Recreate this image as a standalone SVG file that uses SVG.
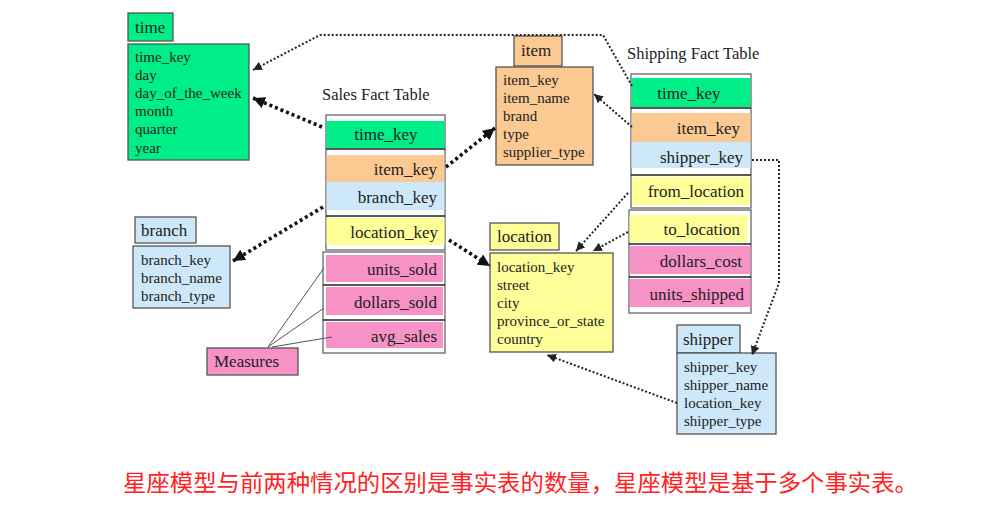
<svg xmlns="http://www.w3.org/2000/svg" width="1004" height="505" viewBox="0 0 1004 505">
<style>
text{font-family:"Liberation Serif","Times New Roman",serif;fill:#222}
.b{font-size:15px}
.f{font-size:17px}
.t{font-size:17px}
.cap{font-size:16.5px}
.r{text-anchor:end}
.m{text-anchor:middle}
.box{stroke:#555;stroke-width:1.3}
.frame{fill:#fff;stroke:#666;stroke-width:1.3}
.sep{stroke:#222;stroke-width:1.5}
.g{fill:#00EE88}
.o{fill:#FBC992}
.bl{fill:#CDE8F8}
.y{fill:#FFFF99}
.p{fill:#F792C6}
.thick{fill:none;stroke:#111;stroke-width:3.6;stroke-dasharray:3 3;marker-end:url(#ah)}
.thin{fill:none;stroke:#222;stroke-width:2;stroke-dasharray:2 2;marker-end:url(#as)}
.ml{fill:none;stroke:#555;stroke-width:1}
.cjk{font-family:"Liberation Serif","Noto Sans CJK SC",sans-serif;font-size:23px;fill:#FF2222}
</style>
<defs>
<marker id="ah" markerUnits="userSpaceOnUse" markerWidth="14" markerHeight="12" refX="12" refY="6" orient="auto">
<path d="M0,0 L12,6 L0,12 Z" fill="#111"/>
</marker>
<marker id="as" markerUnits="userSpaceOnUse" markerWidth="10" markerHeight="9" refX="9" refY="4.5" orient="auto">
<path d="M0,0 L9,4.5 L0,9 Z" fill="#222"/>
</marker>
</defs>
<rect width="1004" height="505" fill="#fff"/>

<g id="time">
<rect class="box g" x="128" y="13" width="45" height="28"/>
<text class="t" x="135" y="33">time</text>
<rect class="box g" x="128" y="44" width="121" height="116"/>
<text class="b" x="135" y="62">time_key</text>
<text class="b" x="135" y="80">day</text>
<text class="b" x="135" y="98">day_of_the_week</text>
<text class="b" x="135" y="116">month</text>
<text class="b" x="135" y="134">quarter</text>
<text class="b" x="135" y="153">year</text>
</g>

<g id="item">
<rect class="box o" x="514" y="36" width="48" height="30"/>
<text class="t" x="521" y="56">item</text>
<rect class="box o" x="496" y="67" width="97" height="98"/>
<text class="b" x="503" y="85">item_key</text>
<text class="b" x="503" y="103">item_name</text>
<text class="b" x="503" y="121">brand</text>
<text class="b" x="503" y="139">type</text>
<text class="b" x="503" y="157">supplier_type</text>
</g>

<g id="branch">
<rect class="box bl" x="135" y="217" width="61" height="26"/>
<text class="t" x="141" y="236">branch</text>
<rect class="box bl" x="133" y="246" width="97" height="62"/>
<text class="b" x="141" y="265">branch_key</text>
<text class="b" x="141" y="283">branch_name</text>
<text class="b" x="141" y="301">branch_type</text>
</g>

<g id="location">
<rect class="box y" x="490" y="223" width="69" height="27"/>
<text class="t" x="497" y="242">location</text>
<rect class="box y" x="490" y="253" width="123" height="99"/>
<text class="b" x="497" y="272">location_key</text>
<text class="b" x="497" y="290">street</text>
<text class="b" x="497" y="308">city</text>
<text class="b" x="497" y="326">province_or_state</text>
<text class="b" x="497" y="344">country</text>
</g>

<g id="shipper">
<rect class="box bl" x="677" y="325" width="63" height="28"/>
<text class="t" x="683" y="345">shipper</text>
<rect class="box bl" x="677" y="353" width="99" height="81"/>
<text class="b" x="684" y="372">shipper_key</text>
<text class="b" x="684" y="390">shipper_name</text>
<text class="b" x="684" y="408">location_key</text>
<text class="b" x="684" y="426">shipper_type</text>
</g>

<g id="measures">
<rect class="box p" x="207" y="348" width="91" height="27"/>
<text class="t" x="214" y="367">Measures</text>
</g>

<g id="sales-fact-table">
<text class="cap" x="322" y="100">Sales Fact Table</text>
<rect class="frame" x="326" y="115" width="119" height="135"/>
<rect class="g" x="326.5" y="121" width="118" height="27"/>
<rect class="o" x="326.5" y="155" width="118" height="27"/>
<rect class="bl" x="326.5" y="182" width="118" height="28"/>
<rect class="y" x="326.5" y="218" width="118" height="27"/>
<line class="sep" x1="326" y1="149" x2="445" y2="149"/>
<line class="sep" x1="326" y1="216" x2="445" y2="216"/>
<rect class="frame" x="323" y="252" width="122" height="101"/>
<rect class="p" x="326" y="255" width="117" height="27"/>
<rect class="p" x="326" y="287" width="117" height="28"/>
<rect class="p" x="326" y="322" width="117" height="26"/>
<line class="sep" x1="323" y1="285" x2="445" y2="285"/>
<line class="sep" x1="323" y1="320" x2="445" y2="320"/>
<text class="f m" x="386" y="140">time_key</text>
<text class="f r" x="437" y="175">item_key</text>
<text class="f r" x="437" y="203">branch_key</text>
<text class="f r" x="438" y="238">location_key</text>
<text class="f r" x="437" y="275">units_sold</text>
<text class="f r" x="437" y="308">dollars_sold</text>
<text class="f r" x="437" y="342">avg_sales</text>
</g>

<g id="shipping-fact-table">
<text class="cap" x="627" y="59">Shipping Fact Table</text>
<rect class="frame" x="631" y="74" width="120" height="134"/>
<rect class="g" x="631.5" y="78" width="119" height="29"/>
<rect class="o" x="631.5" y="113" width="119" height="29"/>
<rect class="bl" x="631.5" y="142" width="119" height="26"/>
<rect class="y" x="632" y="177" width="118" height="28"/>
<line class="sep" x1="631" y1="108" x2="751" y2="108"/>
<line class="sep" x1="631" y1="175" x2="751" y2="175"/>
<rect class="frame" x="629" y="210" width="122" height="103"/>
<rect class="y" x="629.5" y="215" width="118" height="27"/>
<rect class="p" x="629.5" y="246" width="121" height="28"/>
<rect class="p" x="629.5" y="279" width="121" height="28"/>
<line class="sep" x1="629" y1="244" x2="751" y2="244"/>
<line class="sep" x1="629" y1="277" x2="751" y2="277"/>
<text class="f m" x="689" y="99">time_key</text>
<text class="f r" x="740" y="134">item_key</text>
<text class="f r" x="743" y="163">shipper_key</text>
<text class="f r" x="744" y="197">from_location</text>
<text class="f r" x="740" y="235">to_location</text>
<text class="f r" x="742" y="267">dollars_cost</text>
<text class="f r" x="744" y="300">units_shipped</text>
</g>

<g id="connectors">
<polyline class="thin" points="632,86 603,35 320,35 253,70"/>
<line class="thick" x1="322" y1="127" x2="253" y2="98"/>
<line class="thick" x1="446" y1="167" x2="495" y2="128"/>
<line class="thick" x1="323" y1="207" x2="233" y2="261"/>
<line class="thick" x1="449" y1="240" x2="490" y2="266"/>
<line class="thin" x1="632" y1="127" x2="594" y2="94"/>
<polyline class="thin" points="752,160 779,160 779,283 752,355"/>
<line class="thin" x1="628" y1="193" x2="576" y2="251"/>
<line class="thin" x1="628" y1="232" x2="593" y2="251"/>
<line class="thin" x1="677" y1="403" x2="547" y2="355"/>
<line class="ml" x1="268" y1="347" x2="324" y2="268"/>
<line class="ml" x1="268" y1="347" x2="324" y2="308"/>
<line class="ml" x1="272" y1="347" x2="332" y2="337"/>
</g>

<text class="cjk" x="123" y="491" textLength="795" lengthAdjust="spacingAndGlyphs">星座模型与前两种情况的区别是事实表的数量，星座模型是基于多个事实表。</text>
</svg>
